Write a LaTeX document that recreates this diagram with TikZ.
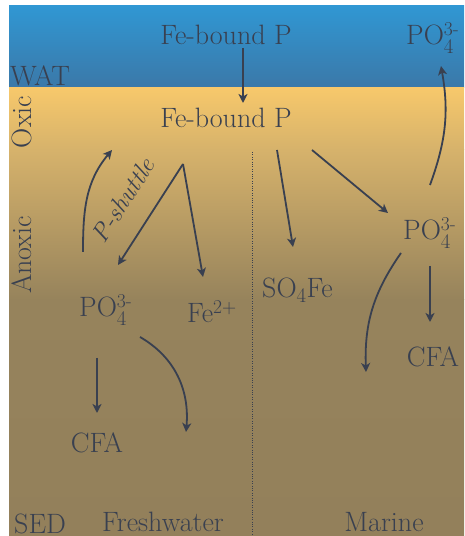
\documentclass[tikz,border=0pt]{standalone}
\usepackage{amsmath}
\usepackage{tikz}
\usetikzlibrary{arrows.meta}
\definecolor{inkgray}{HTML}{394050}
\definecolor{watertop}{HTML}{3097D3}
\definecolor{waterbot}{HTML}{3B78A8}
\definecolor{sedtop}{HTML}{F7C86B}
\definecolor{sedmid}{HTML}{D6B26B}
\definecolor{sedlow}{HTML}{96835C}
\definecolor{sedbot}{HTML}{93805B}

\begin{document}
\begin{tikzpicture}[x=1pt,y=1pt,
  lbl/.style={inner sep=0pt,text=inkgray,font=\fontsize{28}{32}\selectfont},
  arr/.style={-{Stealth[length=9pt,width=9pt,inset=2.5pt]},line width=1.8pt,draw=inkgray}]
\useasboundingbox (0,0) rectangle (464,536);
% water column and sediment
\shade[top color=watertop,bottom color=waterbot] (9,448) rectangle (464,530);
\shade[top color=sedtop,bottom color=sedmid] (9,448) rectangle (464,386);
\shade[top color=sedmid,bottom color=sedlow] (9,386) rectangle (464,236);
\shade[top color=sedlow,bottom color=sedbot] (9,236) rectangle (464,0);
\draw[dotted,inkgray] (252,384) -- (252,0);

\node[lbl,anchor=base] (febW) at (226,491) {Fe-bound P};
\node[lbl,anchor=base] (febS) at (226,408) {Fe-bound P};
\node[lbl,anchor=base west] (wat) at (10,450) {WAT};
\node[lbl,anchor=base west] (poTop) at (406,491) {PO$_4^{\text{3-}}$};
\node[lbl,rotate=90] (oxic) at (22,414) {Oxic};
\node[lbl,rotate=90] (anoxic) at (22,281) {Anoxic};
\node[lbl,rotate=57,font=\fontsize{25}{30}\selectfont\itshape] (pshuttle) at (123,336) {P-shuttle};
\node[lbl,anchor=base west] (poL) at (79,219) {PO$_4^{\text{3-}}$};
\node[lbl,anchor=base west] (fe2) at (187,213) {Fe$^{\text{2+}}$};
\node[lbl,anchor=base] (cfaL) at (97,83) {CFA};
\node[lbl,anchor=base west] (so4fe) at (262,238) {SO$_4$Fe};
\node[lbl,anchor=base west] (poR) at (403,296) {PO$_4^{\text{3-}}$};
\node[lbl,anchor=base] (cfaR) at (433,169) {CFA};
\node[lbl,anchor=base west] (sed) at (14,2) {SED};
\node[lbl,anchor=base] (fresh) at (163,5) {Freshwater};
\node[lbl,anchor=base] (marine) at (384,5) {Marine};

\coordinate (fork) at ([xshift=-43pt,yshift=-36pt]febS.base);
\coordinate (buryL) at (186,104);
\coordinate (buryR) at (366,164);

% fluxes
\draw[arr] ([xshift=17pt,yshift=-3pt]febW.base) -- ([xshift=17pt,yshift=25pt]febS.base);
\draw[arr] ([xshift=51pt,yshift=-22pt]febS.base) -- ([xshift=31pt,yshift=51pt]so4fe.base west);
\draw[arr] ([xshift=86pt,yshift=-22pt]febS.base) -- ([xshift=-15pt,yshift=27pt]poR.base west);
\draw[arr] ([xshift=27pt,yshift=55pt]poR.base west) to[out=70,in=-80] ([xshift=35pt,yshift=-21pt]poTop.base west);
\draw[arr] ([xshift=4pt,yshift=65pt]poL.base west) to[out=90,in=230] ([xshift=-114pt,yshift=-22pt]febS.base);
\draw[arr] (fork) -- ([xshift=39pt,yshift=52pt]poL.base west);
\draw[arr] (fork) -- ([xshift=16pt,yshift=46pt]fe2.base west);
\draw[arr] ([xshift=61pt,yshift=-20pt]poL.base west) to[out=-30,in=85] (buryL);
\draw[arr] ([xshift=18pt,yshift=-41pt]poL.base west) -- ([yshift=40pt]cfaL.base);
\draw[arr] ([xshift=27pt,yshift=-26pt]poR.base west) -- ([xshift=-3pt,yshift=45pt]cfaR.base);
\draw[arr] ([xshift=-2pt,yshift=-13pt]poR.base west) to[out=-125,in=92] (buryR);
\end{tikzpicture}
\end{document}
